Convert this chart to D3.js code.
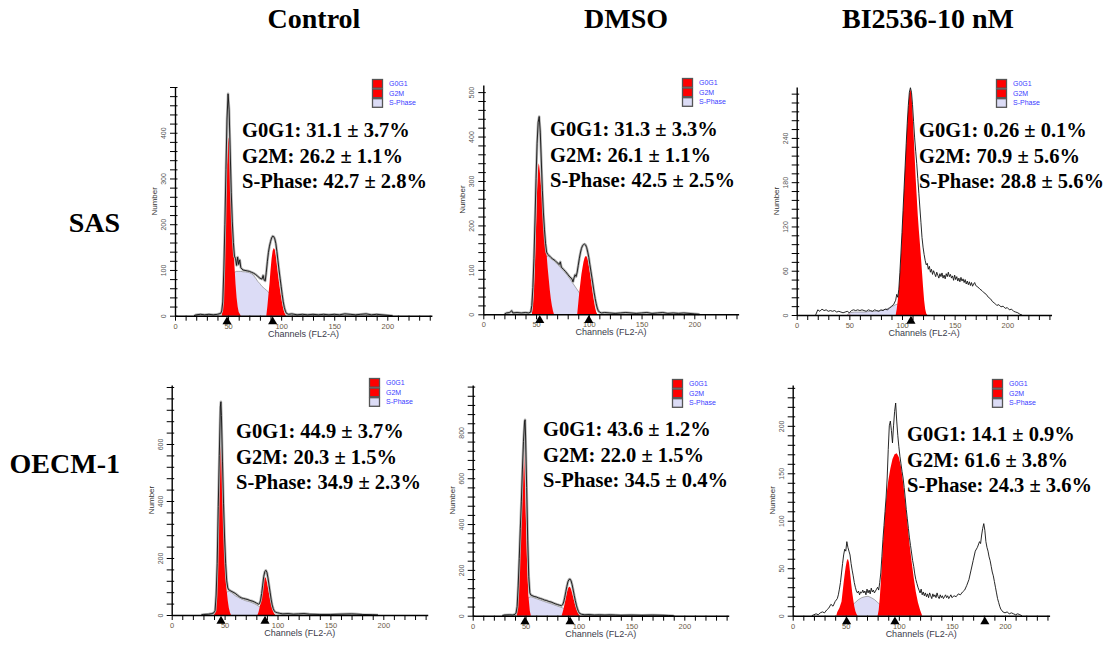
<!DOCTYPE html>
<html><head><meta charset="utf-8">
<script src="https://cdn.jsdelivr.net/npm/d3@7"></script>
<style>body{margin:0;background:#fff}</style>
</head><body>
<svg id="fig" width="1110" height="645"></svg>
<script>
// ---------- text ----------
const columnTitles = ["Control", "DMSO", "BI2536-10 nM"];
const rowLabels = ["SAS", "OECM-1"];
const legendLabels = ["G0G1", "G2M", "S-Phase"];
const statsSasControl = ["G0G1: 31.1 ± 3.7%", "G2M: 26.2 ± 1.1%", "S-Phase: 42.7 ± 2.8%"];
const statsSasDmso = ["G0G1: 31.3 ± 3.3%", "G2M: 26.1 ± 1.1%", "S-Phase: 42.5 ± 2.5%"];
const statsSasBi = ["G0G1: 0.26 ± 0.1%", "G2M: 70.9 ± 5.6%", "S-Phase: 28.8 ± 5.6%"];
const statsOecmControl = ["G0G1: 44.9 ± 3.7%", "G2M: 20.3 ± 1.5%", "S-Phase: 34.9 ± 2.3%"];
const statsOecmDmso = ["G0G1: 43.6 ± 1.2%", "G2M: 22.0 ± 1.5%", "S-Phase: 34.5 ± 0.4%"];
const statsOecmBi = ["G0G1: 14.1 ± 0.9%", "G2M: 61.6 ± 3.8%", "S-Phase: 24.3 ± 3.6%"];

// ---------- y tick labels ----------
const sasControlYTicks = [0, 100, 200, 300, 400];
const sasDmsoYTicks = [0, 100, 200, 300, 400, 500];
const sasBiYTicks = [0, 60, 120, 180, 240];
const oecmControlYTicks = [0, 200, 400, 600];
const oecmDmsoYTicks = [0, 200, 400, 600, 800];
const oecmBiYTicks = [0, 50, 100, 150, 200];
const xTickLabels = [0, 50, 100, 150, 200];

// ---------- SAS Control ----------
const sasControlTotal = [[18,0],[20,2],[24,3],[28,2],[32,3],[36,2],[40,3],[43,5],[44,10],[45,30],[46,100],[47,200],[48,320],[49,430],[50,485],[51,450],[52,360],[53,270],[54,205],[55,160],[56,130],[57,125],[58,110],[59,128],[60,112],[61,122],[62,105],[64,100],[66,99],[68,98],[70,97],[72,95],[74,93],[76,90],[78,86],[80,82],[82,80],[83,88],[84,78],[85,76],[86,95],[87,118],[88,138],[89,152],[90,162],[91,170],[92,174],[93,173],[94,168],[95,158],[96,140],[97,120],[98,100],[99,82],[100,64],[101,46],[102,30],[103,18],[104,10],[105,5],[107,3],[110,4],[115,2],[120,3],[125,2],[130,3],[135,2],[140,3],[145,2],[150,3],[155,2],[160,4],[165,3],[170,2],[175,3],[180,4],[185,2],[190,3],[195,2],[200,1],[205,0]];
const sasControlG0G1 = [[44,0],[45,20],[46,70],[47,150],[48,250],[49,330],[50,380],[50.5,390],[51,385],[52,340],[53,280],[54,215],[55,160],[56,110],[57,70],[58,40],[59,20],[60,8],[62,0]];
const sasControlG2M = [[86,0],[87,20],[88,45],[89,70],[90,100],[91,125],[92,142],[93,148],[94,145],[95,130],[96,110],[97,90],[98,72],[99,55],[100,40],[101,27],[102,15],[103,7],[104,2],[105,0]];
const sasControlS = [[46,0],[48,20],[50,50],[52,75],[54,88],[56,95],[58,97],[60,97],[62,97],[64,96],[66,96],[68,95],[70,94],[72,92],[74,88],[76,82],[78,75],[80,70],[82,64],[84,60],[86,56],[88,52],[90,46],[92,39],[94,32],[96,24],[98,17],[100,10],[102,3],[104,0]];
const sasControlMarks = [49, 92];

// ---------- SAS DMSO ----------
const sasDmsoTotal = [[20,0],[22,3],[25,4],[27,8],[28,3],[32,4],[36,3],[40,4],[43,3],[45,5],[46,20],[47,60],[48,125],[49,210],[50,305],[51,385],[52,432],[53,445],[54,410],[55,345],[56,278],[57,228],[58,190],[59,160],[60,140],[61,135],[62,133],[64,128],[66,124],[68,121],[70,116],[72,112],[73,118],[74,106],[76,101],[78,96],[80,90],[82,84],[84,80],[85,73],[86,82],[87,89],[88,85],[89,95],[90,110],[91,125],[92,138],[93,148],[94,154],[95,157],[96,158],[97,156],[98,150],[99,140],[100,128],[101,112],[102,97],[103,82],[104,66],[105,50],[106,36],[107,24],[108,14],[109,8],[110,5],[112,3],[115,4],[120,3],[125,2],[130,3],[135,4],[140,3],[145,2],[150,3],[155,4],[160,2],[165,3],[170,4],[175,2],[180,3],[185,2],[190,3],[195,2],[200,1],[205,0]];
const sasDmsoG0G1 = [[46,0],[47,20],[48,60],[49,120],[50,200],[51,280],[52,330],[52.5,340],[53,335],[54,310],[55,280],[56,250],[57,220],[58,195],[59,165],[60,135],[61,105],[62,80],[63,55],[64,35],[65,20],[66,8],[67,0]];
const sasDmsoG2M = [[89,0],[90,25],[91,50],[92,70],[93,90],[94,105],[95,118],[96,127],[97,131],[98,130],[99,123],[100,110],[101,95],[102,78],[103,60],[104,43],[105,28],[106,15],[107,5],[108,0]];
const sasDmsoS = [[48,0],[50,20],[52,50],[54,80],[56,105],[58,122],[60,131],[62,131],[64,128],[66,124],[68,120],[70,114],[72,108],[74,103],[76,98],[78,93],[80,87],[82,80],[84,73],[86,66],[88,59],[90,52],[92,45],[94,40],[96,33],[98,26],[100,18],[102,11],[104,5],[106,0]];
const sasDmsoMarks = [53.5, 100];

// ---------- SAS BI2536 ----------
const sasBiTotal = [[18,0],[20,7],[22,5],[24,8],[26,6],[28,7],[30,5],[32,6],[34,5],[36,6],[38,4],[40,5],[42,4],[44,3],[46,4],[48,5],[50,3],[52,6],[54,7],[56,6],[58,7],[60,6],[62,7],[64,6],[66,5],[68,7],[70,6],[72,5],[74,7],[76,6],[78,5],[80,7],[82,6],[84,8],[86,7],[88,9],[90,12],[92,14],[94,20],[95,28],[96,24],[97,35],[98,58],[99,84],[100,112],[101,142],[102,172],[103,202],[104,232],[105,260],[106,284],[107,302],[108,308],[109,302],[110,285],[111,262],[112,240],[113,222],[114,205],[115,185],[116,165],[117,145],[118,125],[119,105],[120,92],[121,82],[122,74],[123,68],[124,70],[125,62],[126,66],[127,58],[128,62],[129,55],[130,60],[131,56],[132,52],[133,58],[134,54],[135,50],[136,56],[137,52],[138,57],[139,50],[140,54],[141,49],[142,56],[143,52],[144,58],[145,52],[146,55],[147,50],[148,53],[149,47],[150,54],[151,48],[152,52],[153,46],[154,50],[155,45],[156,51],[157,46],[158,49],[159,44],[160,48],[161,42],[162,46],[163,41],[164,45],[165,40],[166,44],[167,39],[168,42],[169,44],[170,40],[172,38],[174,35],[176,33],[178,30],[180,28],[182,24],[184,22],[186,18],[188,16],[190,13],[192,14],[194,11],[196,12],[198,9],[200,10],[202,7],[204,8],[206,5],[208,4],[210,3],[212,1],[214,0]];
const sasBiG0G1 = [[48,0],[50,0.5],[52,0]];
const sasBiG2M = [[94,0],[95,8],[96,20],[97,35],[98,55],[99,80],[100,110],[101,140],[102,170],[103,200],[104,230],[105,258],[106,282],[107,300],[108,306],[109,298],[110,275],[111,245],[112,215],[113,185],[114,160],[115,135],[116,115],[117,97],[118,78],[119,58],[120,38],[121,20],[122,8],[123,2],[124,0]];
const sasBiS = [[48,0],[50,3],[55,4],[60,4],[65,4],[70,5],[75,5],[80,6],[85,8],[90,11],[94,14],[97,15],[100,14],[103,11],[106,7],[109,4],[112,1],[114,0]];
const sasBiMarks = [108.5];

// ---------- OECM-1 Control ----------
const oecmControlTotal = [[28,0],[30,2],[35,3],[38,5],[40,8],[41,15],[42,70],[43,180],[44,380],[45,560],[46,730],[46.5,748],[47,700],[48,540],[49,390],[50,270],[51,180],[52,120],[53,95],[54,88],[55,86],[56,84],[58,80],[60,76],[62,70],[64,64],[66,60],[68,58],[70,56],[72,54],[74,51],[76,49],[78,46],[80,42],[82,38],[83,40],[84,52],[85,75],[86,105],[87,135],[88,152],[89,157],[90,150],[91,130],[92,105],[93,80],[94,55],[95,35],[96,22],[97,14],[98,10],[100,8],[102,6],[105,4],[110,5],[115,3],[120,4],[125,5],[130,3],[140,2],[150,2],[160,3],[170,4],[175,3],[180,2],[190,1],[195,0]];
const oecmControlG0G1 = [[40,0],[41,10],[42,60],[43,160],[44,350],[45,500],[46,630],[46.5,655],[47,610],[48,480],[49,340],[50,220],[51,140],[52,85],[53,50],[54,25],[55,10],[56,0]];
const oecmControlG2M = [[81,0],[82,10],[83,25],[84,45],[85,75],[86,100],[87,122],[88,133],[89,130],[90,115],[91,95],[92,75],[93,55],[94,38],[95,24],[96,12],[97,4],[98,0]];
const oecmControlS = [[44,0],[46,20],[48,45],[50,65],[52,80],[54,84],[56,80],[58,74],[60,68],[62,64],[64,60],[66,56],[68,53],[70,50],[72,48],[74,46],[76,43],[78,40],[80,36],[82,31],[84,27],[86,22],[88,16],[90,11],[92,5],[94,0]];
const oecmControlMarks = [46.6, 88.2];

// ---------- OECM-1 DMSO ----------
const oecmDmsoTotal = [[28,0],[30,3],[35,4],[38,3],[40,6],[41,12],[42,40],[43,130],[44,250],[45,380],[46,500],[47,640],[48,760],[49,845],[49.5,855],[50,780],[51,560],[52,330],[53,170],[54,100],[55,90],[56,88],[58,84],[60,82],[62,78],[64,75],[66,72],[68,68],[70,66],[72,62],[74,60],[76,56],[78,52],[80,49],[82,46],[84,44],[85,48],[86,60],[87,80],[88,105],[89,128],[90,148],[91,158],[92,160],[93,152],[94,135],[95,112],[96,88],[97,66],[98,46],[99,30],[100,18],[101,10],[103,6],[106,4],[110,5],[115,3],[120,4],[125,3],[130,4],[135,3],[140,2],[150,3],[160,2],[170,3],[180,2],[185,1],[190,0]];
const oecmDmsoG0G1 = [[41.6,0],[43,150],[44.5,310],[46,470],[47.5,630],[48.5,738],[49.5,560],[50.5,380],[51.5,220],[52.6,90],[54,20],[55,0]];
const oecmDmsoG2M = [[84,0],[85,15],[86,32],[87,55],[88,80],[89,102],[90,118],[91,126],[92,125],[93,115],[94,98],[95,80],[96,62],[97,45],[98,30],[99,18],[100,8],[101,2],[102,0]];
const oecmDmsoS = [[45,0],[47,20],[49,45],[51,68],[53,80],[55,83],[58,78],[61,73],[64,68],[67,63],[70,58],[73,54],[76,49],[79,44],[82,39],[85,34],[88,28],[91,22],[94,15],[97,8],[100,0]];
const oecmDmsoMarks = [49.4, 92];

// ---------- OECM-1 BI2536 ----------
const oecmBiTotal = [[18,0],[20,1],[22,2],[24,1],[26,3],[28,4],[30,3],[32,6],[34,8],[36,12],[38,10],[40,15],[42,18],[43,22],[44,28],[45,35],[46,45],[47,55],[48,64],[49,70],[50,68],[51,78],[52,72],[53,68],[54,64],[55,55],[56,48],[57,42],[58,35],[59,30],[60,26],[61,24],[62,26],[63,22],[64,25],[65,24],[66,27],[67,24],[68,26],[69,22],[70,28],[71,24],[72,27],[73,23],[74,29],[75,25],[76,27],[77,24],[78,26],[79,28],[80,30],[81,27],[82,35],[83,45],[84,62],[85,80],[86,95],[87,110],[88,125],[89,145],[90,175],[91,200],[92,205],[93,195],[94,182],[95,200],[96,215],[97,224],[98,205],[99,190],[100,178],[101,168],[102,160],[103,152],[104,145],[105,135],[106,124],[107,112],[108,102],[109,92],[110,82],[111,74],[112,66],[113,58],[114,52],[115,44],[116,38],[117,34],[118,30],[119,27],[120,24],[121,28],[122,22],[123,25],[124,21],[125,24],[126,20],[127,23],[128,19],[129,24],[130,21],[131,18],[132,23],[133,20],[134,22],[135,19],[136,24],[137,20],[138,18],[139,22],[140,19],[141,21],[142,18],[143,20],[144,22],[145,19],[146,21],[147,18],[148,20],[149,22],[150,19],[152,21],[154,20],[156,23],[158,22],[160,25],[162,27],[164,32],[166,38],[168,48],[170,58],[172,68],[174,72],[176,78],[177,76],[178,85],[179,92],[180,97],[181,90],[182,78],[183,72],[184,68],[185,62],[186,58],[187,52],[188,46],[189,42],[190,36],[191,30],[192,24],[193,18],[194,14],[195,10],[196,7],[198,4],[200,3],[202,4],[204,2],[206,3],[208,2],[210,1],[212,2],[214,1],[216,0]];
const oecmBiG0G1 = [[41,0],[42,4],[44,8],[46,15],[47,25],[48,35],[49,44],[50,52],[51,58],[52,60],[53,56],[54,46],[55,35],[56,25],[57,17],[58,10],[59,5],[60,2],[61,0]];
const oecmBiG2M = [[80,0],[81,6],[82,18],[83,35],[84,55],[85,75],[86,92],[87,108],[88,122],[89,133],[90,142],[92,155],[94,165],[96,170],[98,171],[100,167],[102,157],[104,140],[106,120],[108,98],[110,76],[112,57],[114,40],[116,25],[118,14],[120,6],[122,0]];
const oecmBiS = [[47,0],[50,4],[53,8],[56,11],[59,14],[62,17],[65,19],[68,20],[71,20.5],[74,19],[77,17],[80,14],[83,11],[86,7],[89,4],[92,0]];
const oecmBiMarks = [50.8, 96.3, 181];

// ---------- panel table (layout kept separate from data) ----------
const panels = [
  {total: sasControlTotal, g1: sasControlG0G1, g2: sasControlG2M, s: sasControlS, marks: sasControlMarks, yTicks: sasControlYTicks, stats: statsSasControl,
   yMax: 500, minor: 20, x0: 175, x200: 387.3, y0: 315.7, top: 87, halo: true, statX: 242, statY: 137, legX: 372, legY: 79},
  {total: sasDmsoTotal, g1: sasDmsoG0G1, g2: sasDmsoG2M, s: sasDmsoS, marks: sasDmsoMarks, yTicks: sasDmsoYTicks, stats: statsSasDmso,
   yMax: 516, minor: 20, x0: 483.3, x200: 694.3, y0: 314.3, top: 85, halo: true, statX: 550, statY: 136, legX: 682, legY: 78},
  {total: sasBiTotal, g1: sasBiG0G1, g2: sasBiG2M, s: sasBiS, marks: sasBiMarks, yTicks: sasBiYTicks, stats: statsSasBi,
   yMax: 309, minor: 12, x0: 796.7, x200: 1007.3, y0: 315, top: 87, halo: false, statX: 919, statY: 137, legX: 996, legY: 79},
  {total: oecmControlTotal, g1: oecmControlG0G1, g2: oecmControlG2M, s: oecmControlS, marks: oecmControlMarks, yTicks: oecmControlYTicks, stats: statsOecmControl,
   yMax: 807, minor: 40, x0: 171.7, x200: 383.3, y0: 615, top: 385, halo: true, statX: 236, statY: 438, legX: 369, legY: 378},
  {total: oecmDmsoTotal, g1: oecmDmsoG0G1, g2: oecmDmsoG2M, s: oecmDmsoS, marks: oecmDmsoMarks, yTicks: oecmDmsoYTicks, stats: statsOecmDmso,
   yMax: 1007, minor: 40, x0: 472.7, x200: 684.3, y0: 615.7, top: 385, halo: true, statX: 543, statY: 436, legX: 672, legY: 379},
  {total: oecmBiTotal, g1: oecmBiG0G1, g2: oecmBiG2M, s: oecmBiS, marks: oecmBiMarks, yTicks: oecmBiYTicks, stats: statsOecmBi,
   yMax: 243, minor: 10, x0: 792.7, x200: 1005, y0: 615.7, top: 385, halo: false, statX: 907, statY: 441, legX: 992, legY: 379}
];

const svg = d3.select("#fig");
svg.append("rect").attr("width", 1110).attr("height", 645).attr("fill", "#fff");

const serif = "'Liberation Serif','Times New Roman',serif";
const sans = "'Liberation Sans',Arial,sans-serif";

// column titles and row labels
const titleX = [314, 626, 928];
svg.selectAll("text.col").data(columnTitles).join("text")
  .attr("x", (d, i) => titleX[i]).attr("y", 28).attr("text-anchor", "middle")
  .attr("font-family", serif).attr("font-weight", "bold").attr("font-size", 28).text(d => d);
const rowY = [232, 473];
svg.selectAll("text.row").data(rowLabels).join("text")
  .attr("x", 120).attr("y", (d, i) => rowY[i]).attr("text-anchor", "end")
  .attr("font-family", serif).attr("font-weight", "bold").attr("font-size", 28).text(d => d);

const legendFill = ["#ff0000", "#ff0000", "#dcdcf6"];

panels.forEach(p => {
  const g = svg.append("g");
  const xMax = 242;
  const pxPerCh = (p.x200 - p.x0) / 200;
  const x = d3.scaleLinear().domain([0, xMax]).range([p.x0, p.x0 + xMax * pxPerCh]);
  const y = d3.scaleLinear().domain([0, p.yMax]).range([p.y0, p.top]);

  const area = d3.area().x(d => x(d[0])).y0(y(0)).y1(d => y(d[1]));
  const line = d3.line().x(d => x(d[0])).y(d => y(d[1]));

  g.append("path").datum(p.s).attr("d", area).attr("fill", "#dcdcf6");
  g.append("path").datum(p.s).attr("d", line).attr("fill", "none").attr("stroke", "#777").attr("stroke-width", 0.6);
  g.append("path").datum(p.g1).attr("d", area).attr("fill", "#ff0000");
  g.append("path").datum(p.g2).attr("d", area).attr("fill", "#ff0000");
  if (p.halo) {
    g.append("path").datum(p.total).attr("d", line).attr("fill", "none")
      .attr("stroke", "#b4b4b4").attr("stroke-width", 2.6).attr("stroke-linejoin", "round");
  }
  g.append("path").datum(p.total).attr("d", line).attr("fill", "none")
    .attr("stroke", "#111").attr("stroke-width", 0.9).attr("stroke-linejoin", "round");

  // x axis
  const xAxis = d3.axisBottom(x).tickValues(d3.range(0, 241, 10)).tickSize(5).tickSizeOuter(0)
    .tickFormat(d => xTickLabels.includes(d) ? d : "");
  const gx = g.append("g").attr("transform", `translate(0,${p.y0})`).call(xAxis);
  gx.select(".domain").attr("stroke", "#000").attr("stroke-width", 1.4);
  gx.selectAll(".tick line").attr("stroke", "#000").attr("stroke-width", 1);
  gx.selectAll(".tick text").attr("font-family", sans).attr("font-size", 7.5).attr("fill", "#6a5a45").attr("y", 7.5);

  // y axis
  const yAxis = d3.axisLeft(y).tickValues(d3.range(0, p.yMax + 0.001, p.minor)).tickSize(5).tickSizeOuter(0)
    .tickFormat(d => p.yTicks.includes(d) ? d : "");
  const gy = g.append("g").attr("transform", `translate(${p.x0},0)`).call(yAxis);
  gy.select(".domain").attr("stroke", "#000").attr("stroke-width", 1.4);
  gy.selectAll(".tick line").attr("stroke", "#000").attr("stroke-width", 1).attr("x1", 2.5).attr("x2", -5);
  gy.selectAll(".tick text").attr("font-family", sans).attr("font-size", 7).attr("fill", "#555")
    .attr("transform", "rotate(-90)").attr("x", 0).attr("y", -9).attr("dy", 0).attr("text-anchor", "middle");

  // axis titles
  g.append("text").attr("transform", `translate(${p.x0 - 18},${(p.y0 + p.top) / 2}) rotate(-90)`)
    .attr("text-anchor", "middle").attr("font-family", sans).attr("font-size", 8).attr("fill", "#333").text("Number");
  g.append("text").attr("x", (x(0) + x(xMax)) / 2).attr("y", p.y0 + 21).attr("text-anchor", "middle")
    .attr("font-family", sans).attr("font-size", 9).attr("fill", "#3a3a4a").text("Channels (FL2-A)");

  // peak markers
  g.selectAll("path.mark").data(p.marks).join("path")
    .attr("d", d3.symbol(d3.symbolTriangle, 36))
    .attr("transform", d => `translate(${x(d)},${p.y0 + 6})`).attr("fill", "#000");

  // legend
  const lg = g.append("g").attr("transform", `translate(${p.legX},${p.legY})`);
  legendLabels.forEach((lab, i) => {
    lg.append("rect").attr("x", 0.5).attr("y", i * 9.6 + 0.5).attr("width", 10).attr("height", 8.6)
      .attr("fill", legendFill[i]).attr("stroke", "#555").attr("stroke-width", 1.3);
    lg.append("text").attr("x", 17).attr("y", i * 9.6 + 7).attr("font-family", sans).attr("font-size", 7)
      .attr("fill", "#3b3bff").text(lab);
  });

  // stats text
  p.stats.forEach((t, i) => {
    g.append("text").attr("x", p.statX).attr("y", p.statY + i * 25.5)
      .attr("font-family", serif).attr("font-weight", "bold").attr("font-size", 20.5).attr("fill", "#000").text(t);
  });
});
</script>
</body></html>
